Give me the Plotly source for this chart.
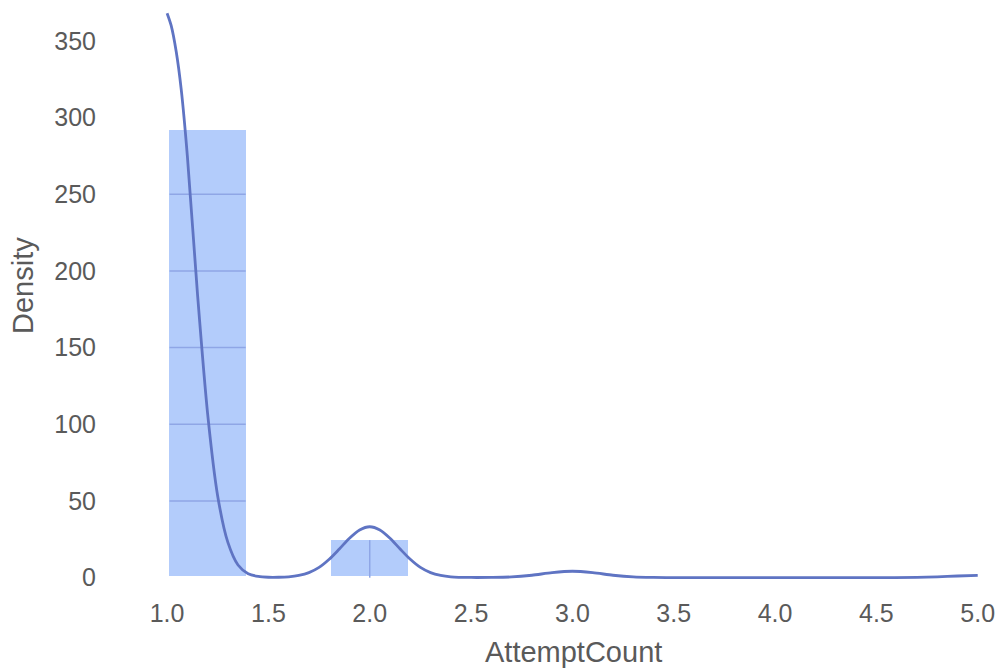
import plotly.graph_objects as go

# ---- data ----
bin_left = [1.0, 1.4, 1.8, 2.2, 2.6, 3.0, 3.4, 3.8, 4.2, 4.6]
bin_width = 0.4
bin_height = [293.0, 0.0, 26.0, 0.0, 0.0, 0.0, 0.0, 0.0, 0.0, 0.0]

kde_x = [1.00, 1.02, 1.045, 1.07, 1.10, 1.15, 1.20, 1.25, 1.30, 1.35, 1.40, 1.45, 1.50,
         1.55, 1.60, 1.65, 1.70, 1.75, 1.80, 1.85, 1.90, 1.95, 2.00, 2.05, 2.10,
         2.15, 2.20, 2.25, 2.30, 2.35, 2.40, 2.50, 2.60, 2.70, 2.80, 2.90, 3.00,
         3.10, 3.20, 3.30, 3.40, 3.50, 3.75, 4.00, 4.25, 4.50, 4.70, 4.80, 4.90, 5.00]
kde_y = [368, 360, 343, 318, 275, 185, 107, 53, 23, 8.3, 2.6, 0.8, 0.3,
         0.3, 0.6, 1.5, 3.3, 6.7, 12, 18.7, 25.7, 31.1, 33.2, 31.1, 25.7,
         18.7, 12, 6.7, 3.3, 1.5, 0.6, 0.15, 0.2, 0.5, 1.6, 3.3, 4.2,
         3.3, 1.6, 0.5, 0.15, 0.05, 0.02, 0.02, 0.02, 0.05, 0.15, 0.5, 1.1, 1.5]

x_ticks = [1.0, 1.5, 2.0, 2.5, 3.0, 3.5, 4.0, 4.5, 5.0]
x_tick_text = ["1.0", "1.5", "2.0", "2.5", "3.0", "3.5", "4.0", "4.5", "5.0"]
y_ticks = [0, 50, 100, 150, 200, 250, 300, 350]
y_tick_text = ["0", "50", "100", "150", "200", "250", "300", "350"]

x_title = "AttemptCount"
y_title = "Density"

# ---- styles ----
BAR_COLOR = "#b3ccfb"
GRID_ON_BAR = "#8fa6e6"
LINE_COLOR = "#5f74c3"
TEXT_COLOR = "#5a5a5a"
FONT = "Liberation Sans, Arial, sans-serif"

fig = go.Figure()

centers = [l + bin_width / 2 for l in bin_left]
fig.add_trace(go.Bar(
    x=centers, y=bin_height, width=[bin_width] * len(centers),
    marker=dict(color=BAR_COLOR, line=dict(color="white", width=4)),
    hoverinfo="skip", showlegend=False,
))

# grid lines only show through the bars (white grid on white background)
gx, gy = [], []
for l, h in zip(bin_left, bin_height):
    if h <= 0:
        continue
    r = l + bin_width
    for v in y_ticks:
        if 0 < v < h:
            gx += [l + 0.012, r - 0.012, None]
            gy += [v, v, None]
    for t in x_ticks:
        if l + 0.02 < t < r - 0.02:
            gx += [t, t, None]
            gy += [0, h - 1.5, None]
fig.add_trace(go.Scatter(
    x=gx, y=gy, mode="lines", line=dict(color=GRID_ON_BAR, width=1.5),
    hoverinfo="skip", showlegend=False,
))

fig.add_trace(go.Scatter(
    x=kde_x, y=kde_y, mode="lines",
    line=dict(color=LINE_COLOR, width=2.8, shape="spline", smoothing=0.8),
    hoverinfo="skip", showlegend=False,
))

fig.update_layout(
    width=1003, height=671,
    margin=dict(l=161, r=5, t=0, b=91),
    paper_bgcolor="white", plot_bgcolor="white",
    font=dict(family=FONT, color=TEXT_COLOR, size=25),
    bargap=0,
    xaxis=dict(
        range=[0.97, 5.1], tickvals=x_ticks, ticktext=x_tick_text,
        showgrid=False, zeroline=False, showline=False, ticks="",
        ticklabelstandoff=16, tickfont=dict(size=25, color=TEXT_COLOR),
    ),
    yaxis=dict(
        range=[-1.5, 376.6], tickvals=y_ticks, ticktext=y_tick_text,
        showgrid=False, zeroline=False, showline=False, ticks="",
        ticklabelstandoff=64, tickfont=dict(size=25, color=TEXT_COLOR),
    ),
    annotations=[
        dict(text=x_title, xref="paper", yref="paper", x=0.4934, y=-0.1545,
             xanchor="center", yanchor="bottom", showarrow=False,
             font=dict(size=29, color=TEXT_COLOR, family=FONT)),
        dict(text=y_title, xref="paper", yref="paper", x=-0.1649, y=0.5086,
             xanchor="center", yanchor="middle", textangle=-90, showarrow=False,
             font=dict(size=29, color=TEXT_COLOR, family=FONT)),
    ],
)

fig.write_html("out.html")
